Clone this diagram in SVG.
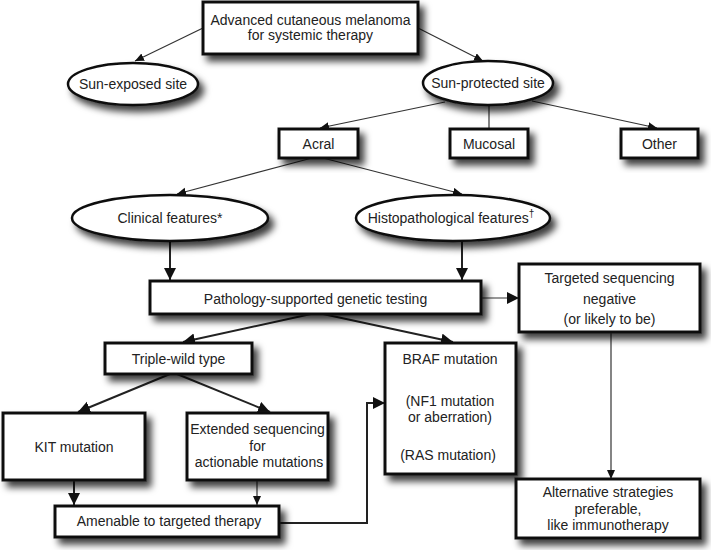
<svg xmlns="http://www.w3.org/2000/svg" width="711" height="550" viewBox="0 0 711 550">
<style>
.box{fill:#fff;stroke:#111;stroke-width:3;filter:url(#sh)}
.ell{fill:#fff;stroke:#111;stroke-width:2.5;filter:url(#sh)}
text{font-family:"Liberation Sans",Arial,sans-serif;font-size:14px;fill:#222;text-anchor:middle}
.ln{fill:none;stroke:#333;stroke-width:1.2}
.ln2{fill:none;stroke:#222;stroke-width:2}
</style>
<defs>
<filter id="sh" x="-20%" y="-30%" width="150%" height="180%">
<feDropShadow dx="5" dy="6" stdDeviation="3.5" flood-color="#000" flood-opacity="0.75"/>
</filter>
<marker id="a" markerUnits="userSpaceOnUse" markerWidth="10" markerHeight="10" refX="9" refY="4" orient="auto">
<path d="M0,0 L9,4 L0,8 Z" fill="#111"/>
</marker>
<marker id="b" markerUnits="userSpaceOnUse" markerWidth="14" markerHeight="14" refX="12" refY="6" orient="auto">
<path d="M0,0 L12,6 L0,12 Z" fill="#111"/>
</marker>
</defs>
<g id="connectors">
<line class="ln" x1="203" y1="28" x2="135" y2="61" marker-end="url(#a)"/>
<line class="ln" x1="418" y1="28" x2="483" y2="61" marker-end="url(#a)"/>
<line class="ln" x1="445" y1="102" x2="320" y2="128" marker-end="url(#a)"/>
<line class="ln" x1="489" y1="105" x2="489" y2="129"/>
<line class="ln" x1="532" y1="101" x2="657" y2="128" marker-end="url(#a)"/>
<line class="ln" x1="312" y1="158" x2="177" y2="194" marker-end="url(#a)"/>
<line class="ln" x1="323" y1="158" x2="462" y2="194" marker-end="url(#a)"/>
<line class="ln2" x1="170" y1="242" x2="170" y2="280" marker-end="url(#b)"/>
<line class="ln2" x1="462" y1="242" x2="462" y2="280" marker-end="url(#b)"/>
<line class="ln" x1="481" y1="298" x2="519" y2="298" marker-end="url(#b)"/>
<line class="ln2" x1="311" y1="314" x2="183" y2="342" marker-end="url(#b)"/>
<line class="ln2" x1="323" y1="314" x2="453" y2="342" marker-end="url(#b)"/>
<line class="ln2" x1="170" y1="374" x2="78" y2="412" marker-end="url(#b)"/>
<line class="ln2" x1="177" y1="374" x2="270" y2="412" marker-end="url(#b)"/>
<line class="ln2" x1="74" y1="481" x2="74" y2="505" stroke-width="2.5" marker-end="url(#b)"/>
<line class="ln" x1="257" y1="481" x2="257" y2="505" marker-end="url(#a)"/>
<polyline class="ln2" points="279,523 367,523 367,403 385,403" marker-end="url(#b)"/>
<line class="ln" x1="611" y1="332" x2="611" y2="479" marker-end="url(#a)"/>
</g>
<g id="n-top"><rect class="box" x="203" y="2" width="215" height="52"/><text x="310.5" y="25">Advanced cutaneous melanoma</text><text x="310.5" y="40">for systemic therapy</text></g>
<g id="n-sunexp"><ellipse class="ell" cx="133" cy="84" rx="65" ry="21"/><text x="133" y="89">Sun-exposed site</text></g>
<g id="n-sunprot"><ellipse class="ell" cx="488" cy="83" rx="65" ry="22"/><text x="488" y="88">Sun-protected site</text></g>
<g id="n-acral"><rect class="box" x="279" y="129" width="79" height="29"/><text x="318.5" y="148.5">Acral</text></g>
<g id="n-mucosal"><rect class="box" x="450" y="129" width="78" height="29"/><text x="489" y="148.5">Mucosal</text></g>
<g id="n-other"><rect class="box" x="621" y="129" width="77" height="29"/><text x="659.5" y="148.5">Other</text></g>
<g id="n-clinical"><ellipse class="ell" cx="170" cy="218" rx="98" ry="23"/><text x="170" y="223">Clinical features*</text></g>
<g id="n-histo"><ellipse class="ell" cx="453" cy="218" rx="97" ry="23"/><text x="451" y="223">Histopathological features<tspan font-size="10" dy="-6">†</tspan></text></g>
<g id="n-patho"><rect class="box" x="150" y="281" width="331" height="33"/><text x="315.5" y="304">Pathology-supported genetic testing</text></g>
<g id="n-targeted"><rect class="box" x="519" y="264" width="181" height="68"/><text x="609.5" y="283">Targeted sequencing</text><text x="609.5" y="304">negative</text><text x="609.5" y="324">(or likely to be)</text></g>
<g id="n-triple"><rect class="box" x="105" y="343" width="147" height="31"/><text x="178.5" y="364">Triple-wild type</text></g>
<g id="n-braf"><rect class="box" x="385" y="343" width="131" height="131"/><text x="450" y="364">BRAF mutation</text><text x="450" y="406">(NF1 mutation</text><text x="450" y="422">or aberration)</text><text x="448" y="460">(RAS mutation)</text></g>
<g id="n-kit"><rect class="box" x="3" y="413" width="142" height="67"/><text x="74" y="452">KIT mutation</text></g>
<g id="n-extended"><rect class="box" x="187" y="413" width="141" height="67"/><text x="257.5" y="434">Extended sequencing</text><text x="257.5" y="451">for</text><text x="259" y="467">actionable mutations</text></g>
<g id="n-amenable"><rect class="box" x="55" y="506" width="224" height="31"/><text x="169" y="526">Amenable to targeted therapy</text></g>
<g id="n-alt"><rect class="box" x="516" y="479" width="184" height="59"/><text x="608" y="497">Alternative strategies</text><text x="608" y="514">preferable,</text><text x="608" y="530">like immunotherapy</text></g>
</svg>
